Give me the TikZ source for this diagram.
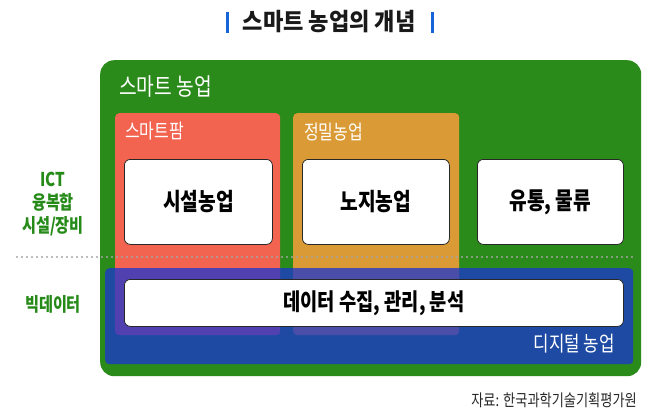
\documentclass[tikz,border=0pt]{standalone}
\usepackage{fontspec}
\setmainfont{Noto Sans CJK KR}[FakeStretch=0.8]
\usetikzlibrary{positioning}
\definecolor{farmgreen}{RGB}{42,138,26}
\definecolor{farmred}{RGB}{242,100,80}
\definecolor{farmorange}{RGB}{218,154,53}
\definecolor{digiblue}{RGB}{27,53,209}
\definecolor{titleblue}{RGB}{21,101,216}
\definecolor{sidegreen}{RGB}{38,138,24}
\definecolor{cardline}{RGB}{40,40,40}
\definecolor{dotgray}{RGB}{165,165,165}
\definecolor{srcgray}{RGB}{40,40,40}

\begin{document}
\begin{tikzpicture}[x=1pt,y=-1pt,
    every node/.style={inner sep=0pt},
    area/.style={rounded corners=4pt,anchor=north west},
    card/.style={draw=cardline,fill=white,line width=0.8pt,rounded corners=6pt,
        anchor=north west,font=\bfseries\fontsize{24}{24}\selectfont},
    tag/.style={text=white,anchor=west,font=\fontsize{20}{20}\selectfont},
    side/.style={text=sidegreen,align=center,font=\bfseries\fontsize{19}{20}\selectfont},
    bar/.style={fill=titleblue,minimum width=3pt,minimum height=21pt},
    dotrow/.style={draw=dotgray,line width=2.2pt,line cap=round,dash pattern=on 0pt off 5pt}
]
    \useasboundingbox (0,0) rectangle (658,418);

    % title
    \node[font=\bfseries\fontsize{24}{24}\selectfont\addfontfeature{FakeStretch=0.92},text=black!90] (title) at (329,22) {스마트 농업의 개념};
    \node[bar] (barl) at (227.5,22.5) {};
    \node[bar] (barr) at (432.5,22.5) {};

    % smart farming areas
    \node[area,rounded corners=14pt,fill=farmgreen,minimum width=541pt,minimum height=316pt] (smart) at (100,60) {};
    \node[tag,font=\fontsize{24}{24}\selectfont] (smartlbl) at (119,86.5) {스마트 농업};
    \node[area,fill=farmred,minimum width=165pt,minimum height=222pt] (farm) at (115,113) {};
    \node[tag] (farmlbl) at (125,131.5) {스마트팜};
    \node[area,fill=farmorange,minimum width=166pt,minimum height=222pt] (prec) at (293,113) {};
    \node[tag] (preclbl) at (304,131.5) {정밀농업};

    \node[card,minimum width=148pt,minimum height=85pt] (facil) at (124,159) {시설농업};
    \node[card,minimum width=147pt,minimum height=85pt] (field) at (302,159) {노지농업};
    \node[card,minimum width=146pt,minimum height=85pt] (logi) at (477,159) {유통, 물류};

    % digital farming
    \node[area,fill=digiblue,fill opacity=0.75,minimum width=528pt,minimum height=96pt] (digi) at (105,268) {};
    \node[tag,anchor=east,font=\fontsize{21}{21}\selectfont] (digilbl) at (615,344) {디지털 농업};
    \node[card,minimum width=499pt,minimum height=47pt,font=\bfseries\fontsize{23.4}{24}\selectfont] (data) at (124,279) {데이터 수집, 관리, 분석};

    \coordinate (dotl) at (17,257);
    \coordinate (dotr) at (636,257);
    \draw[dotrow] (dotl) -- (dotr);

    % left labels
    \node[side] (ict) at (53,204) {ICT\\[3pt]융복합\\[3pt]시설/장비};
    \node[side] (bigdata) at (53,304) {빅데이터};

    \node[anchor=east,text=srcgray,font=\fontsize{16.5}{16.5}\selectfont] (src) at (637,400) {자료: 한국과학기술기획평가원};
\end{tikzpicture}
\end{document}
